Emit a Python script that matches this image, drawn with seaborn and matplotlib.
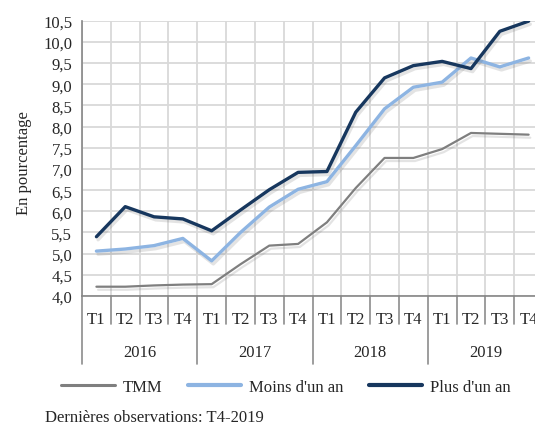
import matplotlib.pyplot as plt
import matplotlib.patheffects as pe
from matplotlib.lines import Line2D
from matplotlib.ticker import FuncFormatter, MultipleLocator
import pandas as pd
import seaborn as sns

# Données (en pourcentage, trimestriel 2016-2019)
annees = ["2016", "2017", "2018", "2019"]
trimestres = ["T1", "T2", "T3", "T4"]
tmm = [4.22, 4.22, 4.25, 4.27, 4.28, 4.75, 5.19, 5.23,
       5.74, 6.55, 7.26, 7.26, 7.47, 7.85, 7.83, 7.81]
moins_un_an = [5.06, 5.11, 5.19, 5.36, 4.83, 5.50, 6.10, 6.52,
               6.70, 7.55, 8.42, 8.93, 9.05, 9.62, 9.41, 9.62]
plus_un_an = [5.40, 6.11, 5.87, 5.82, 5.54, 6.03, 6.51, 6.92,
              6.94, 8.34, 9.15, 9.44, 9.54, 9.37, 10.25, 10.49]
series = ["TMM", "Moins d'un an", "Plus d'un an"]

couleurs = {"TMM": "#7f7f7f", "Moins d'un an": "#8db4e2", "Plus d'un an": "#17375e"}
epaisseurs = {"TMM": 1.6, "Moins d'un an": 2.4, "Plus d'un an": 2.4}

sns.set_theme(style="white")
plt.rcParams["font.family"] = ["Liberation Serif", "DejaVu Serif"]
plt.rcParams["font.size"] = 12

n = len(tmm)
df = pd.DataFrame({
    "pos": list(range(n)) * 3,
    "valeur": tmm + moins_un_an + plus_un_an,
    "serie": [s for s in series for _ in range(n)],
})

fig = plt.figure(figsize=(5.35, 4.27), dpi=100)
ax = fig.add_axes([0.1533, 0.3044, 0.8617, 0.6447])

sns.lineplot(data=df, x="pos", y="valeur", hue="serie", hue_order=series,
             palette=couleurs, ax=ax, legend=False)
# ombre portée légère, façon Excel
ombre = [pe.SimpleLineShadow(offset=(1.2, -2.2), shadow_color="#666666", alpha=0.18),
         pe.Normal()]
for ligne, nom in zip(ax.lines, series):
    ligne.set_linewidth(epaisseurs[nom])
    ligne.set_path_effects(ombre)
    ligne.set_solid_joinstyle("round")

ax.set_xlim(-0.5, n - 0.5)
ax.set_ylim(4.0, 10.5)
ax.yaxis.set_major_locator(MultipleLocator(0.5))
ax.yaxis.set_major_formatter(FuncFormatter(lambda v, _: f"{v:.1f}".replace(".", ",")))
ax.set_xticks([k - 0.5 for k in range(n + 1)])
ax.set_xticklabels([])
ax.tick_params(axis="x", length=0)
ax.tick_params(axis="y", length=5, color="#868686", width=1, pad=2, labelsize=12)
ax.grid(True, color="#d9d9d9", linewidth=1.3)
ax.set_axisbelow(True)
for cote in ["top", "right"]:
    ax.spines[cote].set_visible(False)
for cote in ["left", "bottom"]:
    ax.spines[cote].set_color("#868686")
    ax.spines[cote].set_linewidth(1.2)

ax.set_xlabel("")
ax.set_ylabel("En pourcentage", fontsize=12)
ax.yaxis.set_label_coords(-0.108, 0.487)

# Axe des abscisses à deux niveaux (trimestres / années)
trans = ax.get_xaxis_transform()
for k in range(n + 1):
    bas = -0.247 if k % 4 == 0 else -0.102
    ax.plot([k - 0.5, k - 0.5], [0, bas], transform=trans, color="#8c8c8c",
            linewidth=1.2, clip_on=False)
for i in range(n):
    ax.text(i, -0.083, trimestres[i % 4], transform=trans, ha="center",
            va="center", fontsize=12)
for j, an in enumerate(annees):
    ax.text(4 * j + 1.5, -0.203, an, transform=trans, ha="center",
            va="center", fontsize=12)

poignees = [Line2D([0], [0], color=couleurs[s], linewidth=epaisseurs[s] + 0.6)
            for s in series]
fig.legend(poignees, series, loc="center", bbox_to_anchor=(0.535, 0.092),
           ncol=3, frameon=False, fontsize=12, handlelength=3.2,
           columnspacing=1.5, handletextpad=0.5)

fig.text(0.084, 0.022, "Dernières observations: T4-2019", fontsize=12,
         ha="left", va="center")

fig.savefig("out.png", dpi=100)
